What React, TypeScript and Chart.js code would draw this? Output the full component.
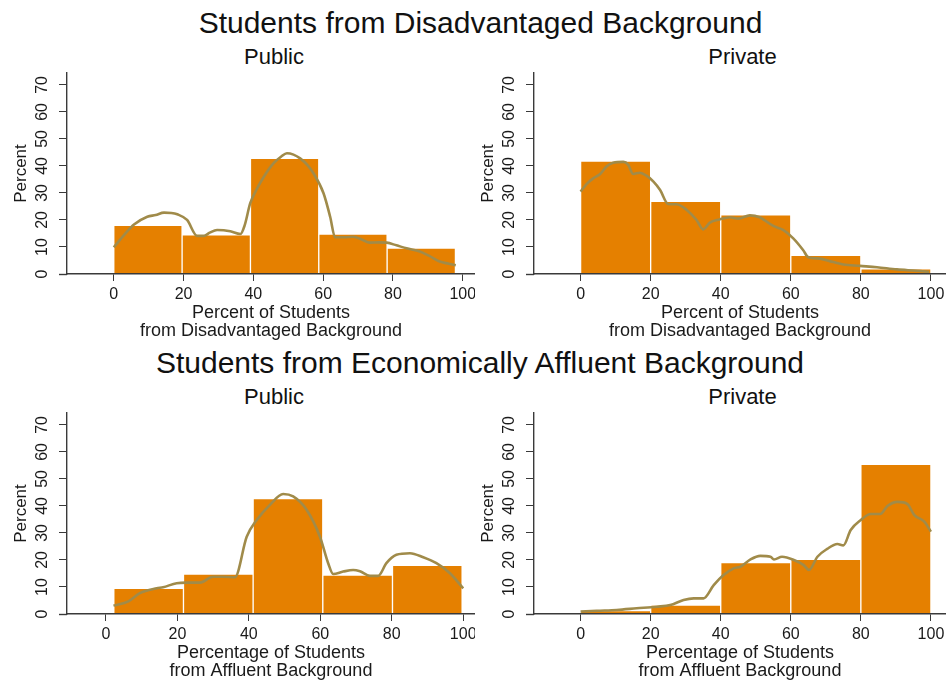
import React, { useEffect, useRef } from "react";
import { Chart, registerables } from "chart.js";

Chart.register(...registerables);

const FONT = "'Liberation Sans', Arial, Helvetica, sans-serif";
const TEXT = "#1a1a1a";
const AXIS = "#3a3a3a";
const BAR_FILL = "#E58000";
const CURVE = "#A08B4A";

// Axis ticks shared by all four panels
const xTicks = [0, 20, 40, 60, 80, 100];
const yTicks = [0, 10, 20, 30, 40, 50, 60, 70];
const yTickLabels = ["0", "10", "20", "30", "40", "50", "60", "70"];
const yMax = 74.4;

// Disadvantaged background — public schools
const disPublicEdges = [0, 19.58, 39.16, 58.74, 78.32, 97.9];
const disPublicPct = [18.0, 14.5, 42.8, 14.8, 9.6];
const disPublicCurveX = [0, 3, 5.8, 9.6, 12, 14.4, 16.5, 18.2, 21, 23.9, 25.8, 27.5, 29.6, 31.5, 33.4, 36.3, 37.5, 39.1, 41, 43, 45.8, 48, 49.6, 51.5, 53.4, 55.5, 57.2, 60.1, 62, 63.4, 66, 68.7, 71, 73.4, 76, 78.2, 81, 83.9, 87.7, 90.5, 93.4, 96, 98];
const disPublicCurveY = [9.9, 14.5, 18.3, 21.2, 21.8, 22.7, 22.6, 22.1, 20, 14.1, 14.1, 15.3, 16.3, 16.2, 15.8, 14.8, 18, 26.2, 31.5, 36, 41, 43.5, 44.7, 44.2, 42.8, 40.3, 37.3, 29.9, 21.2, 13.6, 13.6, 13.8, 12.8, 11.6, 11.7, 11.6, 10.6, 9.5, 8.3, 6.6, 4.6, 3.8, 3.2];

// Disadvantaged background — private schools
const disPrivateEdges = [0, 20, 40, 60, 80, 100];
const disPrivatePct = [41.8, 26.9, 21.9, 6.9, 1.9];
const disPrivateCurveX = [0, 1.7, 3.6, 5.5, 7.4, 9.3, 12.2, 13.6, 15.0, 16.9, 18.9, 20.8, 22.7, 25.0, 27.4, 30.3, 33.1, 35, 36.9, 39.7, 42.6, 45, 48.3, 51.1, 55, 57.8, 60.7, 63.5, 65, 68.3, 72.1, 75, 79.7, 84.6, 90.3, 96, 99.5];
const disPrivateCurveY = [30.5, 33.3, 35.4, 36.9, 39.8, 41.2, 41.5, 40.4, 37, 37.5, 36.3, 34.2, 31.1, 25.9, 25.8, 23.7, 20, 16.5, 19, 20.2, 21, 20.5, 21.7, 21, 17.8, 16.3, 13.2, 8.9, 6.2, 5.7, 4.4, 3.5, 3, 2.5, 1.7, 1.2, 0.8];

// Affluent background — public schools
const affPublicEdges = [2.2, 21.7, 41.2, 60.7, 80.2, 99.7];
const affPublicPct = [9.5, 14.8, 42.7, 14.4, 18.0];
const affPublicCurveX = [2.1, 6.3, 9.5, 14.2, 16, 19.8, 22.6, 26.3, 30, 32.8, 36.1, 39.4, 42.2, 45.9, 49.6, 52.4, 56.2, 59.9, 62.2, 63.6, 66.4, 69.2, 71.1, 73.9, 76.2, 78.5, 81.3, 85.1, 88.8, 92.5, 96.3, 100];
const affPublicCurveY = [3.1, 4.7, 7.7, 9.5, 9.9, 11.4, 11.6, 11.6, 13.8, 13.8, 13.6, 28.6, 34.8, 40.4, 44.4, 43.5, 38.5, 28.6, 18.8, 14.8, 15.7, 16.3, 15.8, 14.1, 14.1, 18.8, 21.9, 22.5, 21, 18.8, 15.1, 9.5];

// Affluent background — private schools
const affPrivateEdges = [0, 20, 40, 60, 80, 100];
const affPrivatePct = [1.3, 3.3, 19.0, 20.2, 55.4];
const affPrivateCurveX = [0, 4.6, 10.3, 16, 21.8, 25.6, 29.4, 32.3, 35.1, 38, 40.8, 43.7, 45.6, 48.5, 51.3, 54.2, 55.2, 57.5, 60.9, 63.7, 65.2, 67.6, 70.4, 73.3, 75, 77.1, 80, 82.8, 85.5, 87.6, 90.5, 93.3, 95.2, 98.1, 100];
const affPrivateCurveY = [0.9, 1.2, 1.5, 2.1, 2.7, 3.3, 5.2, 5.8, 5.8, 10.7, 14.4, 16.9, 17.5, 20.2, 21.5, 21.2, 20.2, 21.2, 20, 18.1, 16.3, 21.2, 24.1, 25.9, 25.4, 31.1, 34.8, 37, 37, 40, 41.5, 40.7, 36.7, 34.2, 30.5];

const disTitle = ["Percent of Students", "from Disadvantaged Background"];
const affTitle = ["Percentage of Students", "from Affluent Background"];

// Rotated y tick labels and the short x-axis stub left of the y axis
const axisDecorations = {
  id: "axisDecorations",
  afterDraw(chart: any) {
    const ctx = chart.ctx;
    const ys = chart.scales.y;
    const area = chart.chartArea;
    ctx.save();
    ctx.font = `16px ${FONT}`;
    ctx.fillStyle = TEXT;
    ctx.textAlign = "center";
    ctx.textBaseline = "middle";
    yTicks.forEach((v, i) => {
      const py = ys.getPixelForValue(v);
      ctx.save();
      ctx.translate(area.left - 24, py);
      ctx.rotate(-Math.PI / 2);
      ctx.fillText(yTickLabels[i], 0, 0);
      ctx.restore();
    });
    ctx.strokeStyle = AXIS;
    ctx.lineWidth = 1.4;
    ctx.beginPath();
    ctx.moveTo(area.left - 8, Math.round(area.bottom) + 0.5);
    ctx.lineTo(area.left, Math.round(area.bottom) + 0.5);
    ctx.stroke();
    ctx.restore();
  },
};

type PanelProps = {
  edges: number[];
  pct: number[];
  curveX: number[];
  curveY: number[];
  xMin: number;
  xMax: number;
  xTitle: string[];
  left: number;
  top: number;
  width: number;
  height: number;
  padLeft: number;
};

function Panel(p: PanelProps) {
  const ref = useRef<HTMLCanvasElement>(null);
  useEffect(() => {
    if (!ref.current) return;
    const centers = p.edges.slice(0, -1).map((e, i) => (e + p.edges[i + 1]) / 2);
    const chart = new Chart(ref.current, {
      type: "bar",
      data: {
        datasets: [
          {
            type: "line",
            data: p.curveX.map((x, i) => ({ x, y: p.curveY[i] })),
            borderColor: CURVE,
            borderWidth: 2.6,
            pointRadius: 0,
            cubicInterpolationMode: "monotone",
            fill: false,
            order: 0,
          } as any,
          {
            type: "bar",
            data: centers.map((x, i) => ({ x, y: p.pct[i] })),
            backgroundColor: BAR_FILL,
            borderColor: "#ffffff",
            borderWidth: 1,
            borderSkipped: "bottom",
            barPercentage: 1,
            categoryPercentage: 1,
            order: 1,
          } as any,
        ],
      },
      options: {
        responsive: false,
        animation: false,
        devicePixelRatio: 1,
        layout: { padding: { left: p.padLeft, top: 33, right: 0, bottom: 0 } },
        plugins: {
          legend: { display: false },
          tooltip: { enabled: false },
          title: { display: false },
        },
        scales: {
          x: {
            type: "linear",
            min: p.xMin,
            max: p.xMax,
            offset: false,
            afterBuildTicks: (s: any) => {
              s.ticks = xTicks.map((v) => ({ value: v }));
            },
            afterFit: (s: any) => {
              s.height = 71;
              s.paddingLeft = 0;
              s.paddingRight = 0;
            },
            grid: {
              display: true,
              drawOnChartArea: false,
              drawTicks: true,
              tickLength: 7,
              color: AXIS,
              lineWidth: 1,
              offset: false,
            },
            border: { display: true, color: AXIS, width: 1.4, z: 1 },
            ticks: {
              font: { family: FONT, size: 16 },
              color: TEXT,
              padding: 4,
              maxRotation: 0,
              autoSkip: false,
            },
            title: {
              display: true,
              text: p.xTitle,
              font: { family: FONT, size: 18, lineHeight: 1.02 },
              color: TEXT,
              padding: { top: 0, bottom: 4.5 },
            },
          },
          y: {
            type: "linear",
            position: "left",
            min: 0,
            max: yMax,
            afterBuildTicks: (s: any) => {
              s.ticks = yTicks.map((v) => ({ value: v }));
            },
            afterFit: (s: any) => {
              s.width = 59;
              s.paddingTop = 0;
              s.paddingBottom = 0;
            },
            grid: {
              display: true,
              drawOnChartArea: false,
              drawTicks: true,
              tickLength: 8,
              color: AXIS,
              lineWidth: 1,
            },
            border: { display: true, color: AXIS, width: 1.4, z: 1 },
            ticks: { display: false },
            title: {
              display: true,
              text: "Percent",
              font: { family: FONT, size: 17 },
              color: TEXT,
              padding: { top: 3, bottom: 0 },
            },
          },
        },
      } as any,
      plugins: [axisDecorations],
    });
    return () => chart.destroy();
  }, []);
  return (
    <canvas
      ref={ref}
      width={p.width}
      height={p.height}
      style={{ position: "absolute", left: p.left, top: p.top, width: p.width, height: p.height }}
    />
  );
}

function Title({ text, size, cx, top }: { text: string; size: number; cx: number; top: number }) {
  return (
    <div
      style={{
        position: "absolute",
        left: cx - 400,
        width: 800,
        top,
        textAlign: "center",
        fontFamily: FONT,
        fontSize: size,
        lineHeight: `${size}px`,
        color: "#111",
        whiteSpace: "nowrap",
      }}
    >
      {text}
    </div>
  );
}

export default function App() {
  return (
    <div
      style={{
        position: "fixed",
        left: 0,
        top: 0,
        width: 946,
        height: 685,
        background: "#ffffff",
        overflow: "hidden",
      }}
    >
      <Title text="Students from Disadvantaged Background" size={30} cx={480.5} top={7.6} />
      <Title text="Public" size={22} cx={274} top={46.4} />
      <Title text="Private" size={22} cx={742.5} top={46.4} />
      <Panel edges={disPublicEdges} pct={disPublicPct} curveX={disPublicCurveX} curveY={disPublicCurveY}
        xMin={-13.4} xMax={103.5} xTitle={disTitle} left={0} top={40} width={475} height={305} padLeft={8} />
      <Panel edges={disPrivateEdges} pct={disPrivatePct} curveX={disPrivateCurveX} curveY={disPrivateCurveY}
        xMin={-13.3} xMax={104.3} xTitle={disTitle} left={475} top={40} width={471} height={305} padLeft={0} />

      <Title text="Students from Economically Affluent Background" size={30} cx={480} top={347.6} />
      <Title text="Public" size={22} cx={274} top={386.4} />
      <Title text="Private" size={22} cx={742.5} top={386.4} />
      <Panel edges={affPublicEdges} pct={affPublicPct} curveX={affPublicCurveX} curveY={affPublicCurveY}
        xMin={-10.9} xMax={103.3} xTitle={affTitle} left={0} top={380} width={475} height={305} padLeft={8} />
      <Panel edges={affPrivateEdges} pct={affPrivatePct} curveX={affPrivateCurveX} curveY={affPrivateCurveY}
        xMin={-13.3} xMax={104.3} xTitle={affTitle} left={475} top={380} width={471} height={305} padLeft={0} />
    </div>
  );
}
